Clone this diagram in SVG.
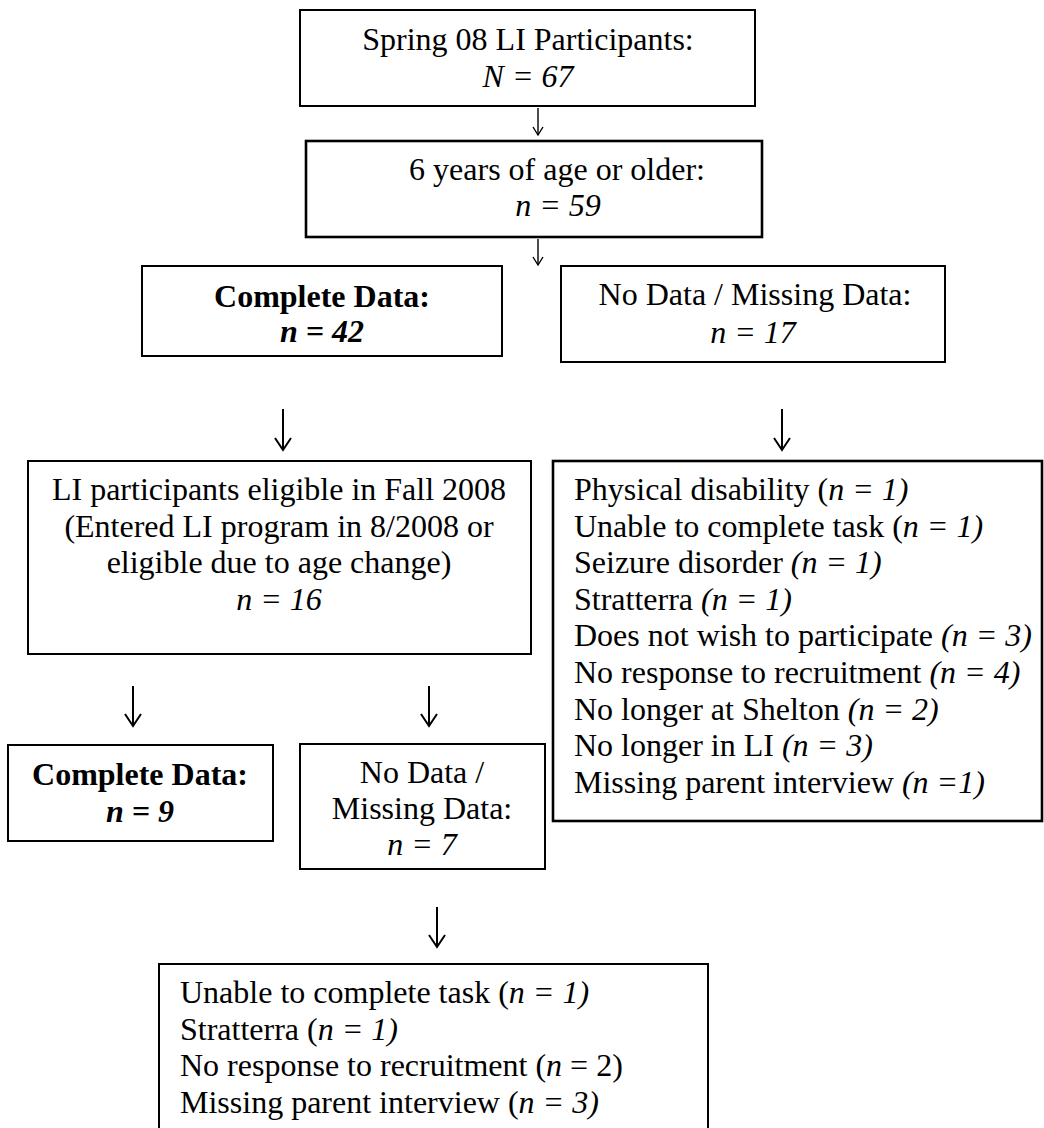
<svg xmlns="http://www.w3.org/2000/svg" width="1044" height="1128" viewBox="0 0 1044 1128">
<style>
  .box{fill:#fff;stroke:#000;stroke-width:2}
  .thick{stroke-width:2.6}
  text{font-family:"Liberation Serif","Times New Roman",serif;font-size:32px;fill:#000}
  .c{text-anchor:middle}
  .i{font-style:italic}
  .b{font-weight:bold}
  .arr{fill:none;stroke:#000}
</style>
<rect width="1044" height="1128" fill="#fff"/>

<g id="n1">
  <rect class="box" x="300" y="10" width="455" height="96"/>
  <text class="c" x="528" y="50">Spring 08 LI Participants:</text>
  <text class="c i" x="528" y="87">N = 67</text>
</g>
<g id="n2">
  <rect class="box thick" x="306" y="141" width="456" height="96"/>
  <text class="c" x="557" y="180">6 years of age or older:</text>
  <text class="c i" x="558" y="216">n = 59</text>
</g>
<g id="n3">
  <rect class="box" x="142" y="266" width="360" height="90"/>
  <text class="c b" x="322" y="307">Complete Data:</text>
  <text class="c b i" x="322" y="342">n = 42</text>
</g>
<g id="n4">
  <rect class="box" x="561" y="266" width="384" height="96"/>
  <text class="c" x="755" y="305">No Data / Missing Data:</text>
  <text class="c i" x="753" y="343">n = 17</text>
</g>
<g id="n5">
  <rect class="box" x="28" y="461" width="503" height="193"/>
  <text class="c" x="279" y="500">LI participants eligible in Fall 2008</text>
  <text class="c" x="279" y="537">(Entered LI program in 8/2008 or</text>
  <text class="c" x="279" y="573">eligible due to age change)</text>
  <text class="c i" x="279" y="610">n = 16</text>
</g>
<g id="n6">
  <rect class="box thick" x="553" y="461" width="489" height="360"/>
  <text x="574" y="500">Physical disability (<tspan class="i">n = 1)</tspan></text>
  <text x="574" y="536.5">Unable to complete task (<tspan class="i">n = 1)</tspan></text>
  <text x="574" y="573">Seizure disorder <tspan class="i">(n = 1)</tspan></text>
  <text x="574" y="609.5">Stratterra <tspan class="i">(n = 1)</tspan></text>
  <text x="574" y="646">Does not wish to participate <tspan class="i">(n = 3)</tspan></text>
  <text x="574" y="683">No response to recruitment <tspan class="i">(n = 4)</tspan></text>
  <text x="574" y="719.5">No longer at Shelton <tspan class="i">(n = 2)</tspan></text>
  <text x="574" y="756">No longer in LI <tspan class="i">(n = 3)</tspan></text>
  <text x="574" y="793">Missing parent interview <tspan class="i">(n =1)</tspan></text>
</g>
<g id="n7">
  <rect class="box" x="8" y="745" width="265" height="96"/>
  <text class="c b" x="140" y="785">Complete Data:</text>
  <text class="c b i" x="140" y="822">n = 9</text>
</g>
<g id="n8">
  <rect class="box" x="300" y="744" width="245" height="125"/>
  <text class="c" x="422" y="783">No Data /</text>
  <text class="c" x="422" y="819">Missing Data:</text>
  <text class="c i" x="422" y="855">n = 7</text>
</g>
<g id="n9">
  <rect class="box" x="159" y="964" width="549" height="170"/>
  <text x="180" y="1003">Unable to complete task (<tspan class="i">n = 1)</tspan></text>
  <text x="180" y="1040">Stratterra (<tspan class="i">n = 1)</tspan></text>
  <text x="180" y="1076">No response to recruitment (<tspan class="i">n</tspan> = 2)</text>
  <text x="180" y="1113">Missing parent interview (<tspan class="i">n = 3)</tspan></text>
</g>

<g id="connectors" class="arr">
  <g stroke-width="1.4">
    <path d="M538,108 V135"/><path d="M533,127 L538,135 L543,127"/>
    <path d="M538,239 V265"/><path d="M533,257 L538,265 L543,257"/>
  </g>
  <g stroke-width="2">
    <path d="M283,409 V450"/><path d="M275,438 L283,450 L291,438"/>
    <path d="M782,409 V450"/><path d="M774,438 L782,450 L790,438"/>
    <path d="M133,686 V726"/><path d="M125,714 L133,726 L141,714"/>
    <path d="M429,686 V726"/><path d="M421,714 L429,726 L437,714"/>
    <path d="M437,907 V947"/><path d="M429,935 L437,947 L445,935"/>
  </g>
</g>
</svg>
